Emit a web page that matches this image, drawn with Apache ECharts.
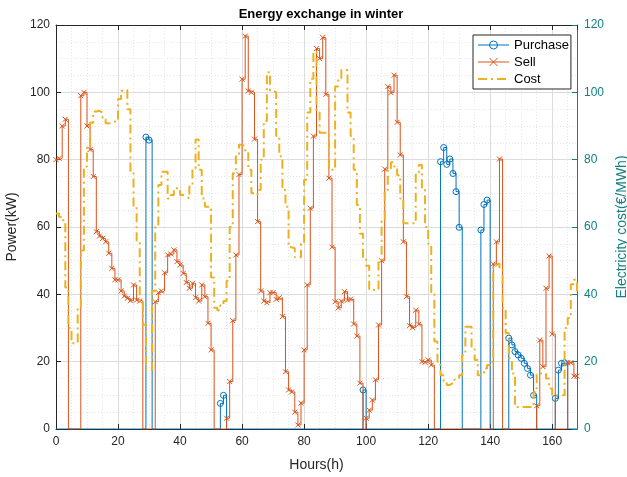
<!DOCTYPE html>
<html>
<head>
<meta charset="utf-8">
<script src="https://cdn.jsdelivr.net/npm/echarts@6/dist/echarts.min.js"></script>
<style>
  html, body { margin: 0; padding: 0; background: #ffffff; }
  #chart { width: 627px; height: 477px; }
</style>
</head>
<body>
<div id="chart"></div>
<script>
// Hourly energy exchange over one winter week (index = hour 0..168)
const purchase = [
  0, 0, 0, 0, 0, 0, 0, 0, 0, 0, 0, 0,
  0, 0, 0, 0, 0, 0, 0, 0, 0, 0, 0, 0,
  0, 0, 0, 0, 0, 86.7, 85.8, 0, 0, 0, 0, 0,
  0, 0, 0, 0, 0, 0, 0, 0, 0, 0, 0, 0,
  0, 0, 0, 0, 0, 7.6, 10, 0, 0, 0, 0, 0,
  0, 0, 0, 0, 0, 0, 0, 0, 0, 0, 0, 0,
  0, 0, 0, 0, 0, 0, 0, 0, 0, 0, 0, 0,
  0, 0, 0, 0, 0, 0, 0, 0, 0, 0, 0, 0,
  0, 0, 0, 11.6, 0, 0, 0, 0, 0, 0, 0, 0,
  0, 0, 0, 0, 0, 0, 0, 0, 0, 0, 0, 0,
  0, 0, 0, 0, 79.4, 83.6, 78.6, 80.2, 75.9, 70.5, 59.9, 0,
  0, 0, 0, 0, 0, 59.1, 66.7, 68, 0, 0, 0, 0,
  0, 0, 27, 25, 23, 22, 21, 19.5, 18, 16, 10, 0,
  0, 0, 0, 0, 0, 9.1, 17.5, 19.5, 19.7, 0, 0, 0,
  0
];

const sell = [
  80, 80.4, 90, 92, 0, 0, 0, 0, 99, 100, 90, 83,
  75, 58.6, 57.3, 56.6, 55.6, 52.2, 47.7, 44.3, 44.3, 41, 39.5, 38.8,
  38.1, 42.8, 38.3, 38, 0, 0, 0, 0, 37.8, 40.5, 41, 46.4,
  51.7, 52, 53.2, 49.7, 48.7, 46.2, 43.5, 41.8, 43.3, 39, 38, 42.8,
  39.3, 31.4, 23.5, 0, 0, 0, 0, 3.2, 14.1, 32.2, 51.7, 75.6,
  103.9, 116.7, 100.4, 100, 86.1, 61.6, 41, 38, 37.5, 40.5, 40.5, 38.5,
  39, 33.4, 17, 11.6, 11, 5, 1.2, 7.7, 23.5, 42.8, 65.6, 87,
  113, 110, 116.3, 99.4, 74.5, 54, 37.8, 36, 38, 40.8, 38.3, 38.6,
  31.2, 27.6, 13.6, 0, 3.2, 5.6, 8.6, 14.6, 30.9, 50, 77.2, 101.7,
  99.9, 105.1, 91.1, 81.4, 55.6, 39.3, 30.7, 30.1, 35.3, 31.1, 20, 19.8,
  20.5, 19, 0, 0, 0, 0, 0, 0, 0, 0, 0, 0,
  0, 0, 0, 0, 0, 0, 0, 0, 0, 49, 55.6, 80.2,
  0, 0, 0, 0, 0, 0, 0, 0, 0, 0, 0, 6.9,
  26.4, 18.5, 41.8, 51.4, 28.2, 0, 0, 0, 0, 19.7, 19.7, 15.7,
  15.7
];

// Electricity price, €/MWh
const cost = [
  64, 63, 62, 42, 30, 25.5, 25.5, 36, 53, 78, 84, 91,
  94.3, 94.5, 94, 92, 90.8, 90.8, 91.3, 91.3, 98, 100.5, 100.7, 95,
  76, 66, 56, 38, 31, 17.5, 17.5, 41, 60, 72.5, 76.4, 76.4,
  68.5, 69.5, 71.5, 71.5, 69.5, 69, 68.5, 72, 77.4, 86, 77, 68.5,
  66, 66, 45, 36, 35.3, 36.8, 38, 44, 60, 76, 81, 84.4,
  84, 82, 77, 70, 69.5, 71, 80, 91.5, 106, 100.5, 100, 87,
  81, 71, 66, 54, 53.7, 51, 51, 55, 74, 94, 104, 112,
  94, 88, 88, 88, 77, 77, 101.7, 104.2, 106.6, 106.6, 94, 87,
  77, 66.5, 58, 51, 48.5, 41.3, 41.3, 41.3, 50, 62, 71, 77.4,
  79.2, 78, 75.4, 68.5, 61.1, 61.1, 61.1, 61.1, 76.2, 78.4, 71.5, 60,
  55, 40, 26, 20, 16, 14, 13.1, 13.6, 14.6, 15, 16, 22,
  30.4, 30.4, 24, 20.5, 16, 16, 18, 19, 20, 48.7, 49.2, 48,
  36, 28.5, 21, 16.5, 6.5, 6.5, 6.5, 6.5, 6.5, 6.5, 11, 16.5,
  16.5, 16.5, 15, 12, 10, 10, 10, 10, 30, 33, 43, 44.3,
  40
];

const xTicks = [0, 20, 40, 60, 80, 100, 120, 140, 160];
const yTicks = [0, 20, 40, 60, 80, 100, 120];

const AXIS_DARK = '#262626';
const TEAL = '#128080';
const BLUE = '#0072BD';
const ORANGE = '#D95319';
const GOLD = '#EDB120';
const FONT = '"Liberation Sans", Arial, Helvetica, sans-serif';

// markers only where energy actually flows
function stairPoints(values, markerSymbol) {
  return values.map((v, h) => ({
    value: [h, v],
    symbol: v > 0 ? markerSymbol : 'none'
  }));
}

const CROSS = 'path://M0,0L10,10M10,0L0,10';

const chart = echarts.init(document.getElementById('chart'), null, { renderer: 'canvas' });

const gridLine = { show: true, lineStyle: { color: '#DCDCDC', width: 1 } };
const minorGrid = { show: true, lineStyle: { color: '#E6E6E6', width: 1, type: [1, 2] } };

function frameLine(color) {
  return { show: true, onZero: false, lineStyle: { color: color, width: 1 } };
}
function innerTicks(color) {
  return { show: true, inside: true, length: 5, lineStyle: { color: color } };
}

chart.setOption({
  animation: false,
  backgroundColor: '#ffffff',
  title: {
    text: 'Energy exchange in winter',
    left: 316,
    textAlign: 'center',
    top: 3,
    textStyle: { fontFamily: FONT, fontSize: 13, fontWeight: 'bold', color: '#000000' }
  },
  legend: {
    orient: 'vertical',
    left: 473,
    top: 35,
    itemWidth: 31,
    itemHeight: 10,
    itemGap: 1,
    padding: [2, 2, 2, 4],
    backgroundColor: '#ffffff',
    borderColor: AXIS_DARK,
    borderWidth: 1,
    borderRadius: 0,
    textStyle: { fontFamily: FONT, fontSize: 13, color: '#000000', lineHeight: 16 },
    data: [
      { name: 'Purchase', lineStyle: { width: 1 }, itemStyle: { borderWidth: 1 } },
      { name: 'Sell', lineStyle: { width: 1 }, itemStyle: { borderWidth: 1 } },
      { name: 'Cost', lineStyle: { width: 2 }, itemStyle: { opacity: 0 } }
    ]
  },
  grid: { left: 56, right: 50, top: 25, bottom: 48, outerBoundsMode: 'none' },
  xAxis: [
    {
      type: 'value',
      min: 0, max: 168, interval: 20,
      name: 'Hours(h)',
      nameLocation: 'middle',
      nameGap: 29,
      nameTextStyle: { fontFamily: FONT, fontSize: 14, color: AXIS_DARK },
      axisLine: frameLine(AXIS_DARK),
      axisTick: innerTicks(AXIS_DARK),
      axisLabel: {
        fontFamily: FONT, fontSize: 12, color: AXIS_DARK, margin: 7,
        showMaxLabel: false,
        formatter: v => (xTicks.indexOf(v) >= 0 ? String(v) : '')
      },
      splitLine: gridLine,
      minorTick: { show: false, splitNumber: 4 },
      minorSplitLine: minorGrid
    },
    {
      type: 'value',
      position: 'top',
      min: 0, max: 168, interval: 20,
      axisLine: frameLine(AXIS_DARK),
      axisTick: innerTicks(AXIS_DARK),
      axisLabel: { show: false },
      splitLine: { show: false }
    }
  ],
  yAxis: [
    {
      type: 'value',
      position: 'left',
      min: 0, max: 120, interval: 20,
      name: 'Power(kW)',
      nameLocation: 'middle',
      nameGap: 33,
      nameTextStyle: { fontFamily: FONT, fontSize: 14, color: AXIS_DARK },
      axisLine: frameLine(AXIS_DARK),
      axisTick: innerTicks(AXIS_DARK),
      axisLabel: {
        fontFamily: FONT, fontSize: 12, color: AXIS_DARK, margin: 6,
        formatter: v => (yTicks.indexOf(v) >= 0 ? String(v) : '')
      },
      splitLine: gridLine,
      minorTick: { show: false, splitNumber: 4 },
      minorSplitLine: minorGrid
    },
    {
      type: 'value',
      position: 'right',
      min: 0, max: 120, interval: 20,
      name: 'Electricity cost(€/MWh)',
      nameLocation: 'middle',
      nameGap: 36,
      nameRotate: 90,
      nameTextStyle: { fontFamily: FONT, fontSize: 14, color: TEAL },
      axisLine: frameLine(TEAL),
      axisTick: innerTicks(TEAL),
      axisLabel: {
        fontFamily: FONT, fontSize: 12, color: TEAL, margin: 7,
        formatter: v => (yTicks.indexOf(v) >= 0 ? String(v) : '')
      },
      splitLine: { show: false }
    }
  ],
  series: [
    {
      name: 'Purchase',
      type: 'line',
      step: 'end',
      xAxisIndex: 0,
      yAxisIndex: 0,
      data: stairPoints(purchase, 'circle'),
      symbol: 'circle',
      symbolSize: 6,
      lineStyle: { color: BLUE, width: 1 },
      itemStyle: { color: 'rgba(255,255,255,0)', borderColor: BLUE, borderWidth: 1 },
      emphasis: { disabled: true },
      z: 3
    },
    {
      name: 'Sell',
      type: 'line',
      step: 'end',
      xAxisIndex: 0,
      yAxisIndex: 0,
      data: stairPoints(sell, CROSS),
      symbol: CROSS,
      symbolSize: 5,
      lineStyle: { color: ORANGE, width: 1 },
      itemStyle: { color: 'rgba(255,255,255,0)', borderColor: ORANGE, borderWidth: 1 },
      emphasis: { disabled: true },
      z: 4
    },
    {
      name: 'Cost',
      type: 'line',
      step: 'end',
      xAxisIndex: 0,
      yAxisIndex: 1,
      data: cost.map((v, h) => [h, v]),
      symbol: 'none',
      lineStyle: { color: GOLD, width: 2, type: [9, 4, 2, 4] },
      itemStyle: { color: GOLD },
      emphasis: { disabled: true },
      z: 5
    }
  ]
});
</script>
</body>
</html>
